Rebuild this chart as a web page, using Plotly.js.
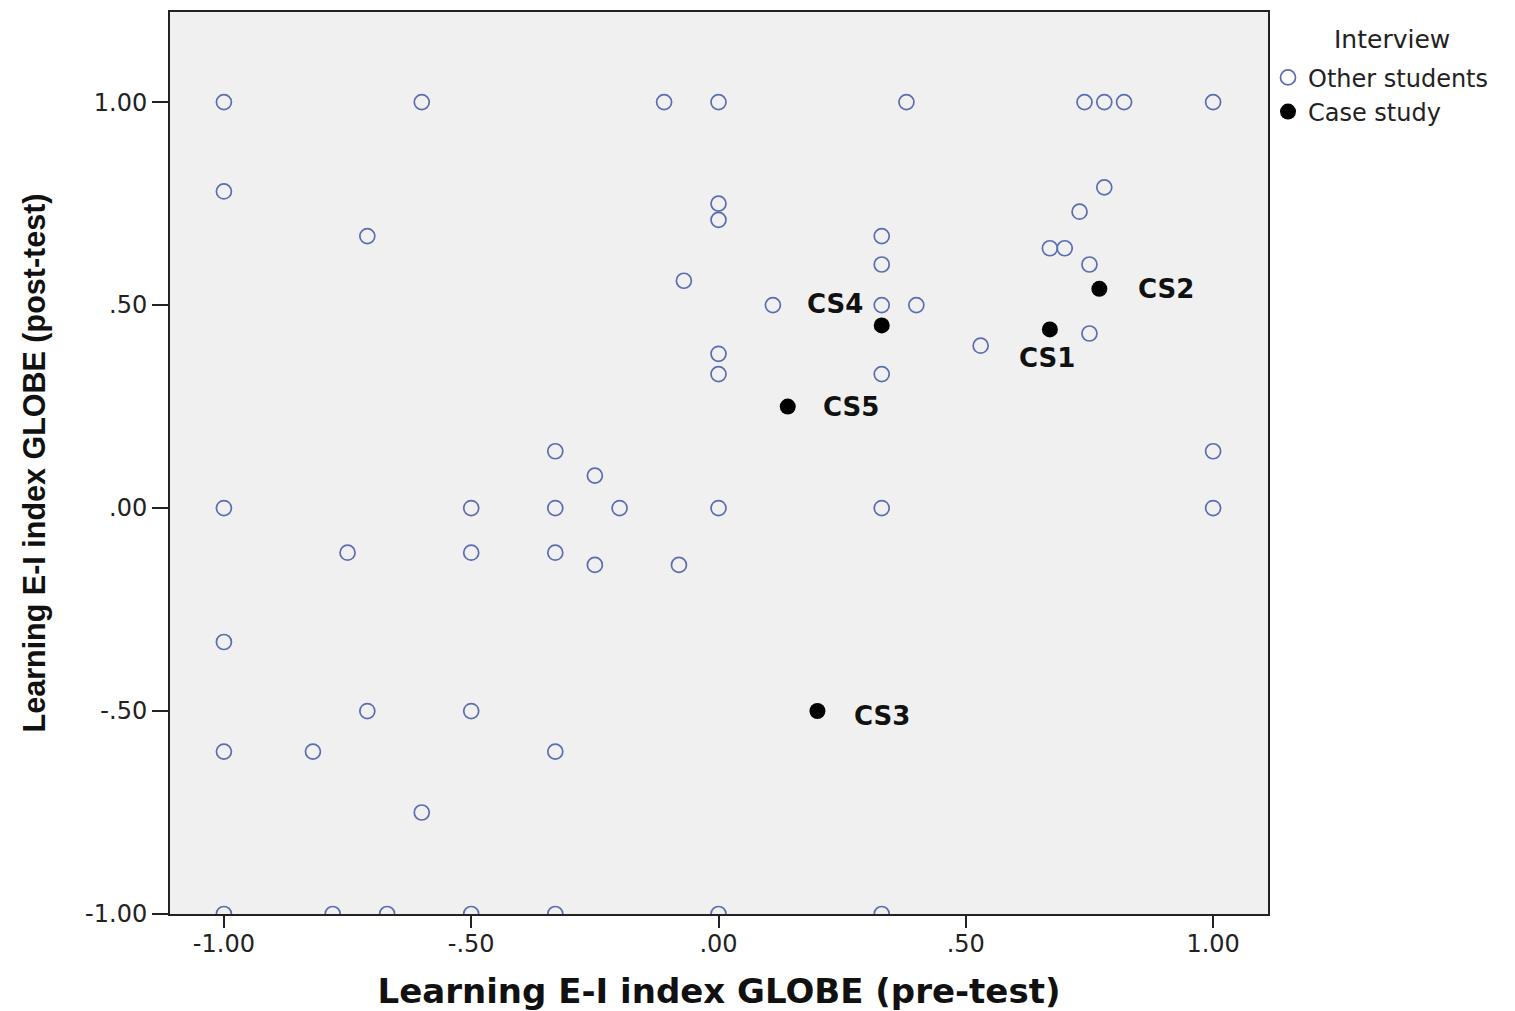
<!DOCTYPE html>
<html><head><meta charset="utf-8">
<script src="https://cdn.plot.ly/plotly-3.0.1.min.js"></script>
<style>html,body{margin:0;padding:0;background:#fff}#chart{width:1515px;height:1011px}</style>
</head><body><div id="chart"></div>
<script>
// Other students (pre-test, post-test)
const otherX = [-1.00,-0.60,-0.11,0.00,0.38,0.74,0.78,0.82,1.00,
  -1.00,-0.71,0.00,0.00,-0.07,0.11,0.33,0.33,0.33,0.40,0.00,0.00,0.33,0.53,0.67,0.70,0.75,0.73,0.78,0.75,
  -0.33,-0.25,-1.00,-0.50,-0.33,-0.20,0.00,0.33,1.00,1.00,
  -0.75,-0.50,-0.33,-0.25,-0.08,-1.00,-0.71,-0.50,-1.00,-0.82,-0.33,-0.60,
  -1.00,-0.78,-0.67,-0.50,-0.33,0.00,0.33];
const otherY = [1.00,1.00,1.00,1.00,1.00,1.00,1.00,1.00,1.00,
  0.78,0.67,0.75,0.71,0.56,0.50,0.67,0.60,0.50,0.50,0.38,0.33,0.33,0.40,0.64,0.64,0.60,0.73,0.79,0.43,
  0.14,0.08,0.00,0.00,0.00,0.00,0.00,0.00,0.00,0.14,
  -0.11,-0.11,-0.11,-0.14,-0.14,-0.33,-0.50,-0.50,-0.60,-0.60,-0.60,-0.75,
  -1.00,-1.00,-1.00,-1.00,-1.00,-1.00,-1.00];
// Case study students
const caseLabels = ["CS1","CS2","CS3","CS4","CS5"];
const caseX = [0.67,0.77,0.20,0.33,0.14];
const caseY = [0.44,0.54,-0.50,0.45,0.25];
// Tick labels
const tickVals = [-1,-0.5,0,0.5,1];
const tickText = ["-1.00","-.50",".00",".50","1.00"];
const legendTitle = "Interview";

const labelShift = {CS1:[-3,-29,'center'],CS2:[37,0,'left'],CS3:[35,-5,'left'],CS4:[-17,21,'right'],CS5:[33,0,'left']};

const traces = [
  {type:'scatter',mode:'markers',name:'Other students',x:otherX,y:otherY,
   marker:{symbol:'circle-open',size:15,color:'#5b6cb0',line:{width:1.7}}},
  {type:'scatter',mode:'markers',name:'Case study',x:caseX,y:caseY,
   marker:{symbol:'circle',size:16,color:'#000'}}
];
const annotations = caseLabels.map((t,i)=>({
  x:caseX[i],y:caseY[i],xref:'x',yref:'y',text:'<b>'+t+'</b>',showarrow:false,
  xshift:labelShift[t][0],yshift:labelShift[t][1],xanchor:labelShift[t][2],yanchor:'middle',
  font:{family:'DejaVu Sans, sans-serif',size:26,color:'#111'}
}));
annotations.push({xref:'paper',yref:'paper',x:1.113,y:0.969,xanchor:'center',yanchor:'middle',
  text:legendTitle,showarrow:false,font:{family:'DejaVu Sans, sans-serif',size:25,color:'#222'}});
const axisCommon = {showgrid:false,zeroline:false,showline:true,linecolor:'#222',linewidth:2,mirror:true,
  ticks:'outside',tickwidth:2,tickcolor:'#222',
  tickfont:{family:'DejaVu Sans, sans-serif',size:24,color:'#222'},
  tickvals:tickVals,ticktext:tickText};
const layout = {
  width:1515,height:1011,paper_bgcolor:'#fff',plot_bgcolor:'#f0f0f0',
  margin:{l:170,r:247,t:12,b:97},
  xaxis:Object.assign({},axisCommon,{range:[-1.109,1.111],ticklen:12,ticklabelstandoff:-5,
    title:{text:'<b>Learning E-I index GLOBE (pre-test)</b>',standoff:22,font:{family:'DejaVu Sans, sans-serif',size:34,color:'#111'}}}),
  yaxis:Object.assign({},axisCommon,{range:[-1.0,1.222],ticklen:16,
    title:{text:'<b>Learning E-I index GLOBE (post-test)</b>',standoff:30,font:{family:'Liberation Sans, Arial, sans-serif',size:30.5,color:'#111'}}}),
  showlegend:true,
  legend:{x:1.0,xanchor:'left',y:0.952,yanchor:'top',bgcolor:'rgba(0,0,0,0)',
    font:{family:'DejaVu Sans, sans-serif',size:24,color:'#222'},itemwidth:30,tracegroupgap:0},
  annotations:annotations
};
Plotly.newPlot('chart',traces,layout,{displayModeBar:false,staticPlot:true});
</script></body></html>
